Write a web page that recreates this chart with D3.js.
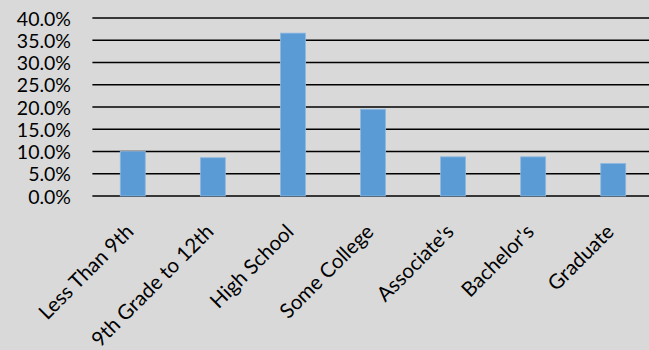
<!DOCTYPE html>
<html>
<head>
<meta charset="utf-8">
<script src="https://cdn.jsdelivr.net/npm/d3@7/dist/d3.min.js"></script>
<style>
  html, body { margin: 0; padding: 0; background: #d9d9d9; }
  svg { display: block; }
  text { font-family: Lato, "Open Sans", sans-serif; fill: #000; }
</style>
</head>
<body>
<svg id="chart" width="649" height="350"></svg>
<script>
// Education attainment shares
const categories = ["Less Than 9th", "9th Grade to 12th", "High School", "Some College", "Associate's", "Bachelor's", "Graduate"];
const shares = [0.100, 0.086, 0.366, 0.195, 0.088, 0.088, 0.073];
const yTicks = [0, 0.05, 0.10, 0.15, 0.20, 0.25, 0.30, 0.35, 0.40];

const svg = d3.select("#chart");
const W = 649, H = 350;
const plotLeft = 92.4, plotRight = 653.6, plotTop = 18, plotBottom = 196;
const labelFont = "Lato, 'Open Sans', sans-serif";

svg.append("rect").attr("width", W).attr("height", H).attr("fill", "#d9d9d9");

const x = d3.scaleBand().domain(categories).range([plotLeft, plotRight]).paddingInner(0.688).paddingOuter(0.348);
const y = d3.scaleLinear().domain([0, 0.40]).range([plotBottom, plotTop]);

// horizontal gridlines
svg.append("g").selectAll("line").data(yTicks).join("line")
  .attr("x1", plotLeft).attr("x2", plotRight)
  .attr("y1", d => y(d)).attr("y2", d => y(d))
  .attr("stroke", "#000").attr("stroke-width", 1.5);

// y axis labels
const yAxis = d3.axisLeft(y).tickValues(yTicks).tickFormat(d3.format(".1%")).tickSize(0).tickPadding(0);
const gy = svg.append("g").attr("transform", "translate(71,0)").call(yAxis);
gy.select(".domain").remove();
gy.selectAll("text").attr("font-size", 19.5).attr("font-family", labelFont).attr("dy", "0.36em");

// bars
svg.append("g").selectAll("rect").data(categories).join("rect")
  .attr("x", d => x(d))
  .attr("width", x.bandwidth())
  .attr("y", (d, i) => y(shares[i]))
  .attr("height", (d, i) => y(0) - y(shares[i]))
  .attr("fill", "#5b9bd5")
  .attr("stroke", "#8db8e2").attr("stroke-width", 0.8);

// category labels, rotated
const xAxis = d3.axisBottom(x).tickSize(0).tickPadding(0);
const gx = svg.append("g").attr("transform", `translate(0,${plotBottom})`).call(xAxis);
gx.select(".domain").remove();
gx.selectAll("text")
  .attr("font-size", 20.5)
  .attr("font-family", labelFont)
  .attr("text-anchor", "end")
  .attr("dy", 0)
  .attr("y", 0)
  .attr("transform", "translate(2,37) rotate(-45)");
</script>
</body>
</html>
